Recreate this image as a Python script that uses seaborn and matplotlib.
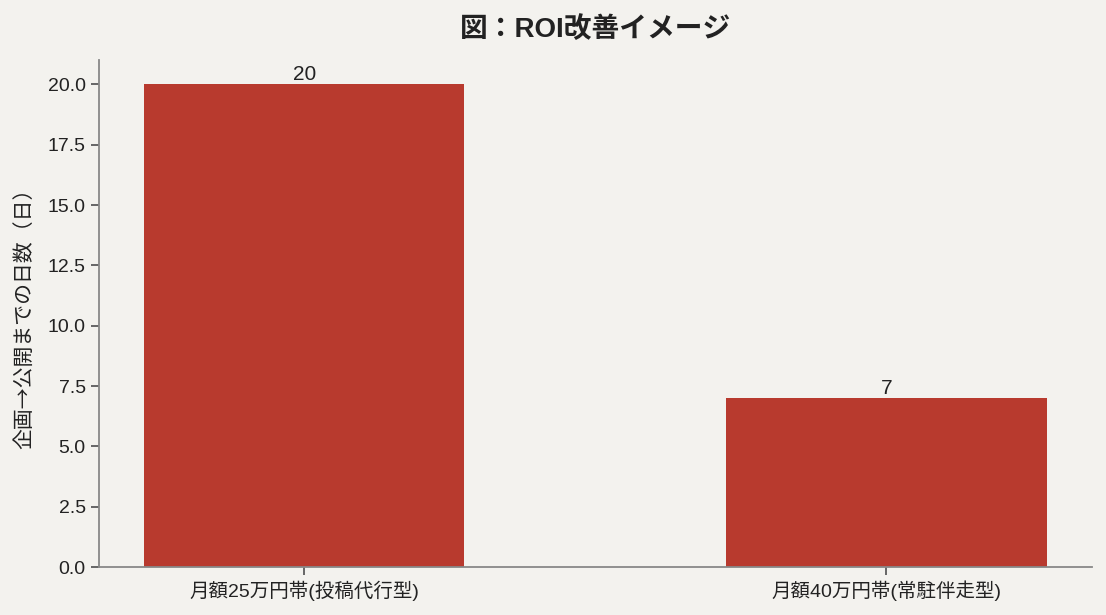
import matplotlib
matplotlib.use("Agg")
import matplotlib.pyplot as plt
import seaborn as sns
import pandas as pd

categories = ["月額25万円帯(投稿代行型)", "月額40万円帯(常駐伴走型)"]
days = [20, 7]
title = "図：ROI改善イメージ"
ylabel = "企画→公開までの日数（日）"

sns.set_theme(style="ticks")
plt.rcParams['font.family'] = ['Liberation Sans', 'Noto Sans CJK JP', 'DejaVu Sans']
bg = "#f3f2ee"
plt.rcParams['figure.facecolor'] = bg
plt.rcParams['axes.facecolor'] = bg

df = pd.DataFrame({"cat": categories, "days": days})

fig, ax = plt.subplots(figsize=(11.06, 6.15), dpi=100)
fig.subplots_adjust(left=0.0895, right=0.987, bottom=0.078, top=0.902)
sns.barplot(data=df, x="cat", y="days", color="#b83a2e", saturation=1,
            width=0.55, linewidth=0, ax=ax)
ax.set_xlim(-0.3525, 1.3525)
ax.set_ylim(0, 21)
for c in ax.containers:
    ax.bar_label(c, fmt="%d", fontsize=15, color="#222222", padding=0)

ax.set_title(title, fontsize=20, fontweight="bold", color="#222222", pad=17)
ax.set_xlabel("")
ax.set_ylabel(ylabel, fontsize=15, color="#222222", labelpad=9,
              family=['Noto Sans CJK JP', 'DejaVu Sans'])
ax.tick_params(axis="both", labelsize=14, colors="#555555", labelcolor="#222222")
sns.despine(ax=ax)
for s in ["left", "bottom"]:
    ax.spines[s].set_color("#888888")
    ax.spines[s].set_linewidth(1.3)

fig.savefig("out.png", dpi=100, facecolor=bg)
